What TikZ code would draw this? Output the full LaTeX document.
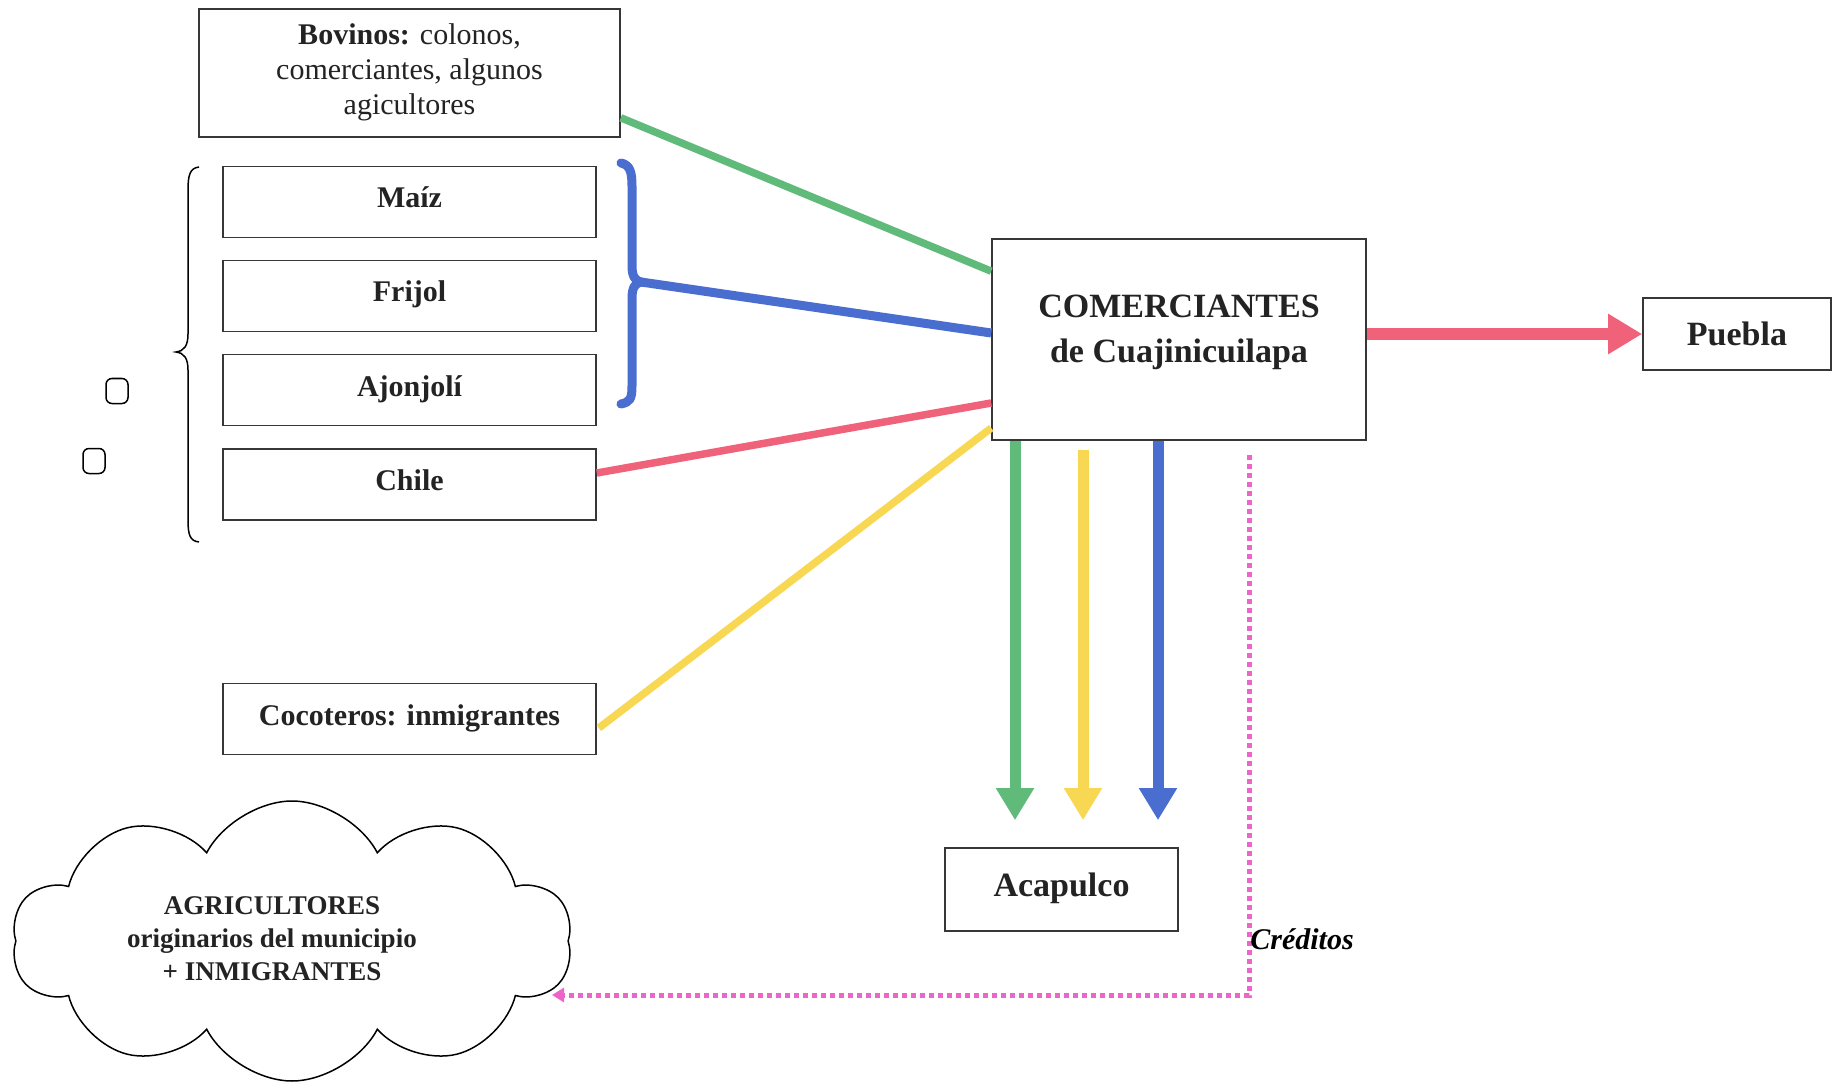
\documentclass[tikz,border=0pt]{standalone}
\usepackage{fontspec}
\setmainfont{Liberation Serif}
\usetikzlibrary{arrows.meta,shapes.symbols,calc}
\definecolor{cgreen}{RGB}{96,186,122}
\definecolor{cblue}{RGB}{74,110,208}
\definecolor{cred}{RGB}{240,98,122}
\definecolor{cyellow}{RGB}{248,216,82}
\definecolor{cpink}{RGB}{238,100,200}
\definecolor{boxline}{RGB}{55,55,55}
\definecolor{txt}{RGB}{35,35,35}
\begin{document}
\begin{tikzpicture}[x=1pt,y=-1pt,
  box/.style={draw=boxline,line width=1.6pt,rectangle,inner sep=0pt,align=center,text=txt},
  crop/.style={box,minimum width=373pt,minimum height=71pt,text height=21pt,text depth=9pt,font=\fontsize{30}{35}\selectfont\bfseries},
  thinline/.style={draw=black,line width=1.5pt},
  feed/.style={line width=7.5pt},
  down/.style={line width=11pt,-{Triangle[width=36pt,length=32pt]}},
  credit/.style={cpink,line width=5pt,dash pattern=on 5pt off 4pt,-{Triangle[width=14pt,length=12pt]}}]
\useasboundingbox (0,0) rectangle (1840,1083);
\fill[white] (0,0) rectangle (1840,1083);

% boxes
\node[box,minimum width=421pt,minimum height=128pt,font=\fontsize{30}{35}\selectfont] (bov) at (409.5,73)
  {\textbf{Bovinos:} colonos,\\comerciantes, algunos\\agicultores\\[-28pt]};
\node[crop] (maiz) at (409.5,202) {Maíz};
\node[crop] (fri) at (409.5,296) {Frijol};
\node[crop] (ajo) at (409.5,390) {Ajonjolí};
\node[crop] (chi) at (409.5,484.5) {Chile};
\node[crop] (coc) at (409.5,719) {Cocoteros: inmigrantes};
\node[box,minimum width=374pt,minimum height=201pt,font=\fontsize{34}{45}\selectfont\bfseries] (com) at (1179,339.5)
  {COMERCIANTES\\de Cuajinicuilapa\\[-24pt]};
\node[box,minimum width=188pt,minimum height=72pt,font=\fontsize{34}{40}\selectfont\bfseries] (pue) at (1737,334) {Puebla};
\node[box,minimum width=233pt,minimum height=83pt,font=\fontsize{34}{40}\selectfont\bfseries] (aca) at (1061.5,889.5) {Acapulco\\[-30pt]};

% cloud
\node[cloud,draw=black,line width=1.5pt,cloud puffs=10,cloud puff arc=125,aspect=2.0,
  minimum width=560pt,minimum height=280pt,inner sep=0pt] (cloud) at (292,941) {};
\node[align=center,text=txt,font=\fontsize{27}{33}\selectfont\bfseries] (cloudtxt) at (272,939)
  {AGRICULTORES\\originarios del municipio\\+ INMIGRANTES};

% left brace
\draw[thinline] (199,167) .. controls (190,168) and (188,175) .. (188,190) -- (188,334)
  .. controls (188,346) and (184,351) .. (176,352)
  .. controls (184,353) and (188,358) .. (188,370) -- (188,520)
  .. controls (188,535) and (190,541) .. (199,542);

% small rounded squares
\node[draw=black,line width=1.5pt,rounded corners=6pt,minimum width=22pt,minimum height=25pt,inner sep=0pt] (sq1) at (117,391) {};
\node[draw=black,line width=1.5pt,rounded corners=6pt,minimum width=22pt,minimum height=25pt,inner sep=0pt] (sq2) at (94,461) {};

% blue brace
\coordinate (btip) at (641,282);
\draw[cblue,line width=9pt,line cap=round] (621,163) .. controls (630,165) and (632,172) .. (632,186) -- (632,266)
  .. controls (632,276) and (635,281) .. (btip)
  .. controls (635,283) and (632,288) .. (632,298) -- (632,386)
  .. controls (632,399) and (630,402) .. (621,404);

% feeds into COMERCIANTES
\draw[feed,cgreen] ([yshift=20pt]bov.south east) -- ([yshift=-33pt]com.north west);
\draw[feed,cblue,line width=9pt] (btip) -- ([yshift=6.5pt]com.west);
\draw[feed,cred] ([yshift=11.5pt]chi.east) -- ([yshift=-63.5pt]com.west);
\draw[feed,cyellow] ([xshift=2pt,yshift=-9pt]coc.east) -- ([yshift=-88.5pt]com.west);

% outputs
\draw[cred,line width=12pt,-{Triangle[width=38pt,length=34pt]}] (com.east |- pue.west) -- (pue.west);
\draw[down,cgreen] ([xshift=-164pt]com.south) -- ([xshift=-46.5pt,yshift=27pt]aca.north);
\draw[down,cyellow] ([xshift=-96pt,yshift=-9pt]com.south) -- ([xshift=21.5pt,yshift=27pt]aca.north);
\draw[down,cblue] ([xshift=-21pt]com.south) -- ([xshift=96.5pt,yshift=27pt]aca.north);

% credits
\coordinate (ctop) at (1249,455);
\coordinate (ccorner) at (1249,995);
\coordinate (cend) at (552,995);
\draw[credit] (ctop) -- (ccorner) -- (cend);
\node[font=\fontsize{30}{34}\selectfont\bfseries\itshape,text=black] (cred) at (1302,939) {Créditos};
\end{tikzpicture}
\end{document}
